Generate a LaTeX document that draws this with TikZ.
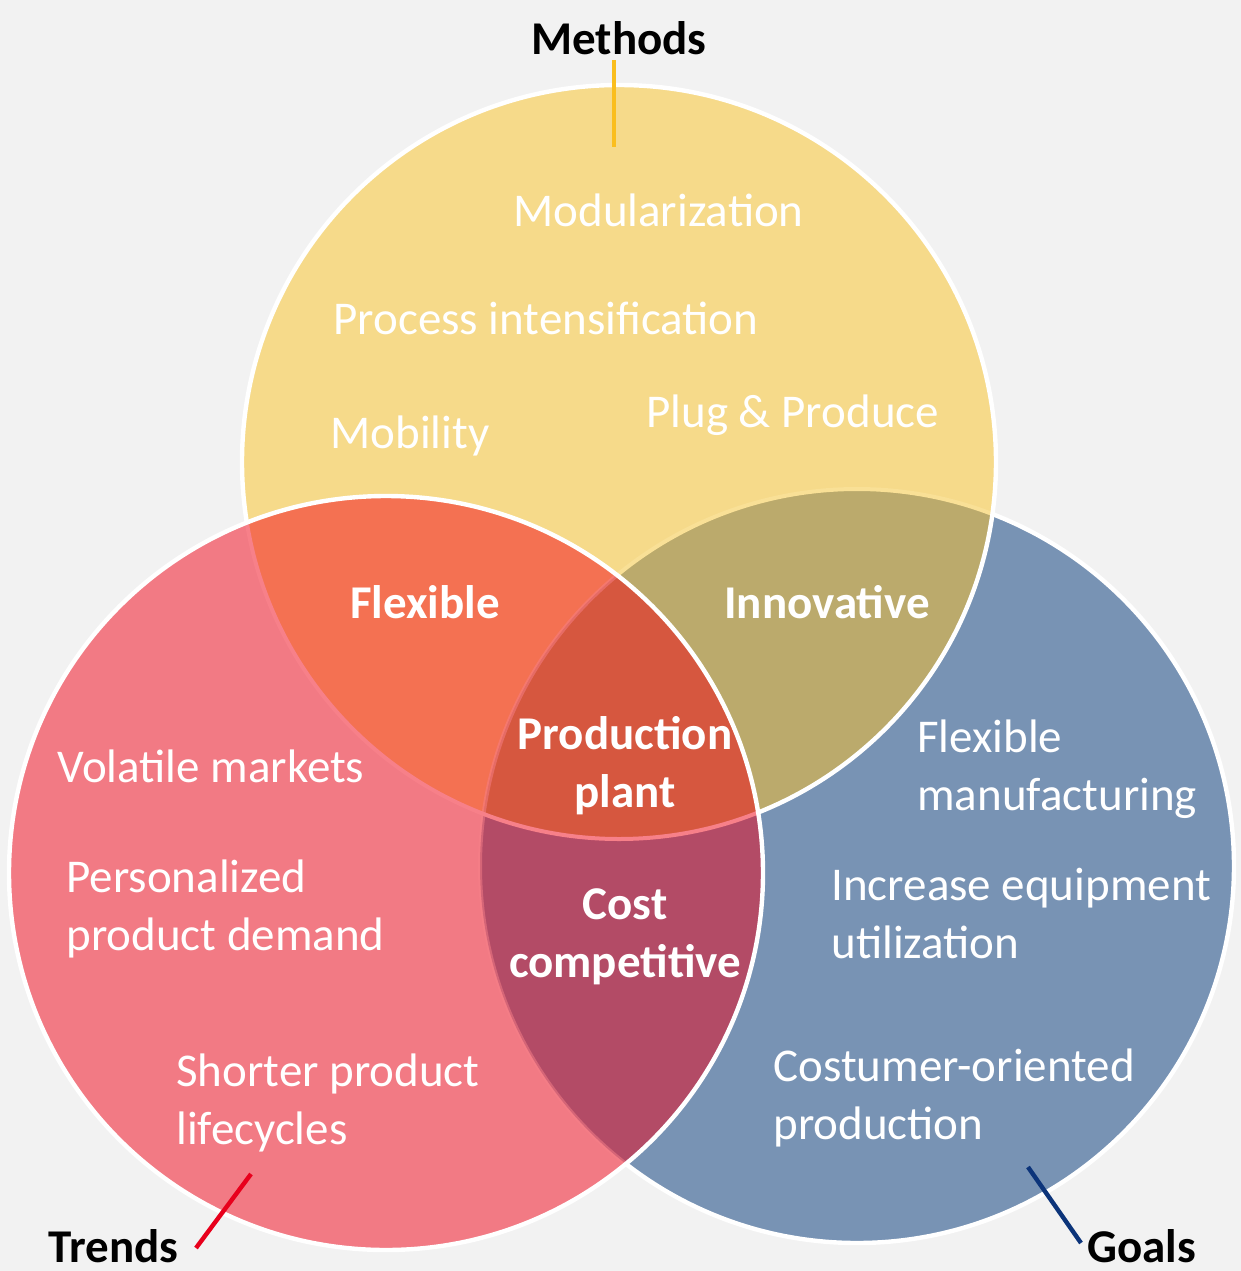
\documentclass[tikz,border=0pt]{standalone}
\usepackage{fontspec}
\setmainfont{Carlito}
\usepackage{tikz}
\definecolor{bgcolor}{RGB}{242,242,242}
\definecolor{methodscolor}{RGB}{246,218,138}
\definecolor{trendscolor}{RGB}{242,122,132}
\definecolor{goalscolor}{RGB}{120,147,180}
\definecolor{flexcolor}{RGB}{244,113,82}
\definecolor{innocolor}{RGB}{187,170,108}
\definecolor{costcolor}{RGB}{179,75,102}
\definecolor{plantcolor}{RGB}{214,87,63}
\definecolor{methodsrim}{RGB}{249,224,150}
\definecolor{trendsrim}{RGB}{247,128,137}
\definecolor{methodstick}{RGB}{250,190,30}
\definecolor{trendstick}{RGB}{232,0,28}
\definecolor{goalstick}{RGB}{12,52,122}

\begin{document}
\begin{tikzpicture}[
    x=0.5pt, y=-0.5pt,
    every node/.style={inner sep=0pt, font=\fontsize{23.5}{28.75}\selectfont},
    rim/.style={draw=white, line width=2.2pt},
    item/.style={text=white, align=left, anchor=base west},
    hub/.style={text=white, align=center, anchor=base,
        font=\fontsize{23.5}{28.75}\selectfont\bfseries},
    title/.style={text=black, font=\fontsize{23.5}{28.75}\selectfont\bfseries},
    tick/.style={line width=2.2pt},
]
    \def\rad{188.5pt}
    % Canvas
    \fill[bgcolor] (0,0) rectangle (1241,1271);
    \useasboundingbox (0,0) rectangle (1241,1271);

    \coordinate (methods) at (619,462);
    \coordinate (trends) at (386,873);
    \coordinate (goals) at (857,866);

    % Goals circle
    \fill[goalscolor] (goals) circle[radius=\rad];
    \draw[rim] (goals) circle[radius=\rad];

    % Methods circle
    \fill[methodscolor] (methods) circle[radius=\rad];
    \begin{scope}
        \clip (methods) circle[radius=\rad];
        \fill[innocolor] (goals) circle[radius=\rad];
        \draw[methodsrim, line width=2pt] (goals) circle[radius=\rad];
    \end{scope}
    \draw[rim] (methods) circle[radius=\rad];

    % Trends circle
    \fill[trendscolor] (trends) circle[radius=\rad];
    \begin{scope}
        \clip (trends) circle[radius=\rad];
        \fill[flexcolor] (methods) circle[radius=\rad];
        \fill[costcolor] (goals) circle[radius=\rad];
        \begin{scope}
            \clip (methods) circle[radius=\rad];
            \fill[plantcolor] (goals) circle[radius=\rad];
        \end{scope}
        \draw[trendsrim, line width=2pt] (methods) circle[radius=\rad];
        \draw[trendsrim, line width=2pt, opacity=0.5] (goals) circle[radius=\rad];
    \end{scope}
    \draw[rim] (trends) circle[radius=\rad];

    % Methods (base = last line)
    \node[item] (modular) at (513,226) {Modularization};
    \node[item] (intens) at (333,334) {Process intensification};
    \node[item] (mobility) at (330,448) {Mobility};
    \node[item] (plug) at (646,427) {Plug \& Produce};

    % Trends
    \node[item] (volatile) at (57,782) {Volatile markets};
    \node[item] (personal) at (66,950) {Personalized\\product demand};
    \node[item] (shorter) at (176,1144) {Shorter product\\lifecycles};

    % Goals
    \node[item] (flexman) at (917,810) {Flexible\\manufacturing};
    \node[item] (equip) at (831,958) {Increase equipment\\utilization};
    \node[item] (costumer) at (773,1139) {Costumer-oriented\\production};

    % Overlaps
    \node[hub] (flexible) at (425,618) {Flexible};
    \node[hub] (innovative) at (827,618) {Innovative};
    \node[hub] (plant) at (625,807) {Production\\plant};
    \node[hub] (cost) at (625,977) {Cost\\competitive};

    % Set titles
    \coordinate (methodsTop) at (614,60);
    \coordinate (methodsEnd) at (614,147);
    \draw[tick, methodstick] (methodsTop) -- (methodsEnd);
    \node[title, anchor=base] (methodsLabel) at (619,54) {Methods};

    \coordinate (trendsTop) at (251,1174);
    \coordinate (trendsEnd) at (196,1248);
    \draw[tick, trendstick] (trendsTop) -- (trendsEnd);
    \node[title, anchor=base west] (trendsLabel) at (48,1262) {Trends};

    \coordinate (goalsTop) at (1028,1167);
    \coordinate (goalsEnd) at (1081,1243);
    \draw[tick, goalstick] (goalsTop) -- (goalsEnd);
    \node[title, anchor=base west] (goalsLabel) at (1087,1262) {Goals};
\end{tikzpicture}
\end{document}
